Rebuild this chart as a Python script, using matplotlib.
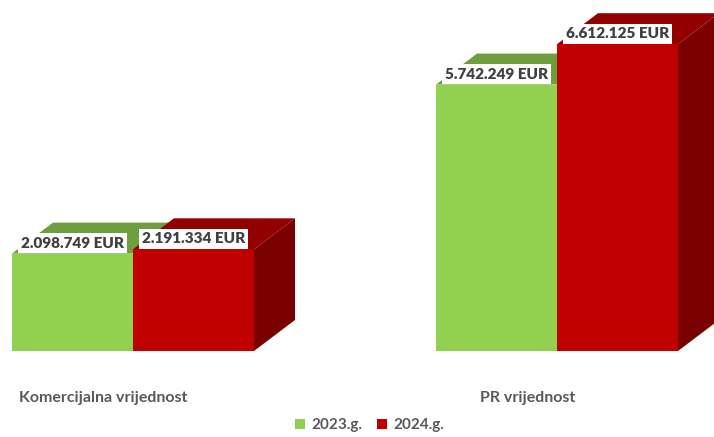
import matplotlib
matplotlib.use("Agg")
import matplotlib.pyplot as plt
from matplotlib.patches import Polygon, Patch

# ---- data ----
categories = ["Komercijalna vrijednost", "PR vrijednost"]
series_names = ["2023.g.", "2024.g."]
values_2023 = [2098749, 5742249]
values_2024 = [2191334, 6612125]

# ---- styles ----
front_colors = ["#92D050", "#C00000"]
top_colors = ["#6E9E3E", "#920000"]
side_colors = ["#6A9A3A", "#7A0000"]
label_color = "#404040"
axis_text_color = "#595959"
FONT = ["Lato", "DejaVu Sans"]

W, H = 714, 437
fig = plt.figure(figsize=(W / 100, H / 100), dpi=100)
ax = fig.add_axes([0, 0, 1, 1])
ax.axis("off")

px_per_unit_x = 424.0
px_per_value = 46.4e-6
x0_px = 133.0
base_px_from_top = 351.0
ax.set_xlim(-x0_px / px_per_unit_x, (W - x0_px) / px_per_unit_x)
ax.set_ylim(-(H - base_px_from_top) / px_per_value, base_px_from_top / px_per_value)

bar_w = 121.0 / px_per_unit_x
dx = 41.0 / px_per_unit_x
dy = 31.0 / px_per_value


def fmt(v):
    return f"{v:,}".replace(",", ".") + " EUR"


series = [values_2023, values_2024]
for s, vals in enumerate(series):
    z = 1 + s * 4
    for i, h in enumerate(vals):
        xl = i - bar_w if s == 0 else i
        xr = xl + bar_w
        side = Polygon([(xr, 0), (xr + dx, dy), (xr + dx, h + dy), (xr, h)],
                       closed=True, facecolor=side_colors[s], edgecolor="none", zorder=z)
        top = Polygon([(xl, h), (xl + dx, h + dy), (xr + dx, h + dy), (xr, h)],
                      closed=True, facecolor=top_colors[s], edgecolor="none", zorder=z + 1)
        ax.add_patch(side)
        ax.add_patch(top)
    xs = [i - bar_w / 2 if s == 0 else i + bar_w / 2 for i in range(len(vals))]
    ax.bar(xs, vals, width=bar_w, color=front_colors[s], zorder=z + 2, linewidth=0)
    for i, h in enumerate(vals):
        ax.annotate(fmt(h), xy=(xs[i], h), xytext=(0, 7.5), textcoords="offset points",
                    ha="center", va="center", fontsize=11, fontweight="heavy",
                    family=FONT, color=label_color, zorder=10,
                    bbox=dict(boxstyle="square,pad=0.22", facecolor="white", edgecolor="none"))

cat_y = (base_px_from_top - 398) / px_per_value
for i, c in enumerate(categories):
    ax.text(i - 0.07, cat_y, c, ha="center", va="center", fontsize=11.5,
            fontweight="bold", family=FONT, color=axis_text_color)

handles = [Patch(facecolor=front_colors[k], edgecolor="none", label=series_names[k]) for k in range(2)]
leg = fig.legend(handles=handles, loc="center", bbox_to_anchor=(369.5 / W, 1 - 425 / H),
                 ncol=2, frameon=False, handlelength=0.65, handleheight=0.65,
                 handletextpad=0.4, columnspacing=1.0,
                 prop={"family": FONT, "weight": "bold", "size": 11})
for t in leg.get_texts():
    t.set_color(axis_text_color)

fig.savefig("out.png", dpi=100)
